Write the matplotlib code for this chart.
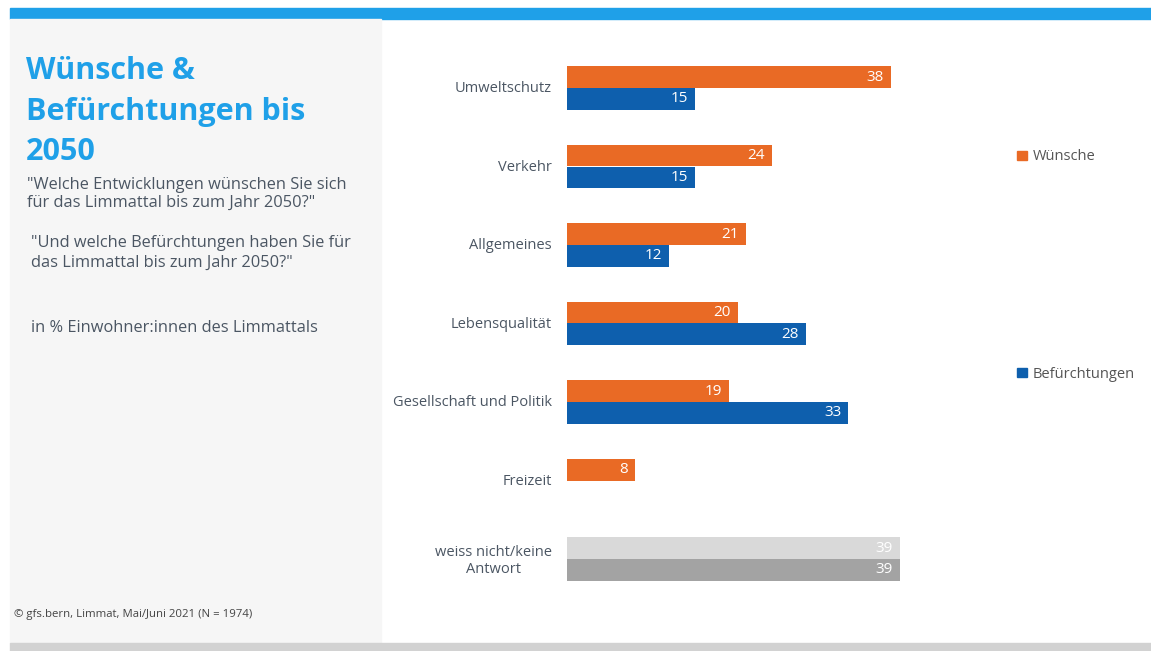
import matplotlib
matplotlib.use('Agg')
import matplotlib.pyplot as plt
from matplotlib.patches import Rectangle, Patch
import numpy as np

plt.rcParams['font.family'] = ['Open Sans', 'DejaVu Sans']

# ── Data ─────────────────────────────────────────────────────────────────────
categories = ["Umweltschutz", "Verkehr", "Allgemeines", "Lebensqualität",
              "Gesellschaft und Politik", "Freizeit", "weiss nicht/keine\nAntwort"]
wuensche       = [38, 24, 21, 20, 19, 8, 39]
befuerchtungen = [15, 15, 12, 28, 33, np.nan, 39]

ORANGE = '#e96a25'
BLUE = '#0e5fad'
GREY_LIGHT = '#d9d9d9'
GREY_DARK = '#a3a3a3'
TEXT = '#4b5663'
TITLE_BLUE = '#1fa0e8'

W, H = 1151, 651
fig = plt.figure(figsize=(W / 100, H / 100), dpi=100)


def fx(px):
    return px / W


def fy(py):
    return 1 - py / H


# page frame: top stripe, side panel, bottom stripe
fig.patches.append(Rectangle((fx(10), fy(19)), fx(1141), 11 / H, transform=fig.transFigure,
                             color=TITLE_BLUE, zorder=0))
fig.patches.append(Rectangle((fx(10), fy(643)), fx(371), 624 / H, transform=fig.transFigure,
                             color='#f6f6f6', zorder=0))
fig.patches.append(Rectangle((fx(10), fy(651)), fx(1141), 8 / H, transform=fig.transFigure,
                             color='#d2d2d2', zorder=0))

# ── Left panel texts ─────────────────────────────────────────────────────────
for line, ypx in (("Wünsche &", 71), ("Befürchtungen bis", 112), ("2050", 152)):
    fig.text(fx(26), fy(ypx), line, ha='left', va='center',
             fontsize=22, fontweight='bold', color=TITLE_BLUE)

question_lines = [
    (27, 185, '"Welche Entwicklungen wünschen Sie sich'),
    (27, 203, 'für das Limmattal bis zum Jahr 2050?"'),
    (31, 243, '"Und welche Befürchtungen haben Sie für'),
    (31, 263, 'das Limmattal bis zum Jahr 2050?"'),
    (31, 328, 'in % Einwohner:innen des Limmattals'),
]
for xpx, ypx, line in question_lines:
    fig.text(fx(xpx), fy(ypx), line, ha='left', va='center', fontsize=11.8, color=TEXT)

fig.text(fx(14), fy(615), '© gfs.bern, Limmat, Mai/Juni 2021 (N = 1974)',
         ha='left', va='center', fontsize=8.2, color='#444444')

# ── Bar chart ────────────────────────────────────────────────────────────────
px_per_unit = 324 / 38
ax_left, ax_right, ax_top, ax_bot = 567, 1000, 40, 610
ax = fig.add_axes([fx(ax_left), fy(ax_bot), (ax_right - ax_left) / W, (ax_bot - ax_top) / H])
ax.set_xlim(0, (ax_right - ax_left) / px_per_unit)
group_gap = 78.5
ax.set_ylim((ax_bot - 88) / group_gap, (ax_top - 88) / group_gap)

y = np.arange(len(categories))
h = 0.28
n_main = len(categories) - 1

ax.barh(y[:n_main] - h / 2, wuensche[:n_main], height=h, color=ORANGE)
ax.barh(y[:n_main] + h / 2, befuerchtungen[:n_main], height=h, color=BLUE)
ax.barh(y[n_main] - h / 2, wuensche[n_main], height=h, color=GREY_LIGHT)
ax.barh(y[n_main] + h / 2, befuerchtungen[n_main], height=h, color=GREY_DARK)

for i in range(len(categories)):
    for val, off in ((wuensche[i], -h / 2), (befuerchtungen[i], h / 2)):
        if np.isnan(val):
            continue
        ax.annotate(f"{val:g}", xy=(val, y[i] + off), xytext=(-5, 0),
                    textcoords='offset points', ha='right', va='center',
                    fontsize=11, color='white')

ax.set_yticks(y - 0.015)
ax.set_yticklabels(categories)
for lab in ax.get_yticklabels():
    lab.set_multialignment('center')
ax.tick_params(axis='y', length=0, pad=11, labelsize=10.5, labelcolor=TEXT)
ax.set_xticks([])
for s in ax.spines.values():
    s.set_visible(False)
ax.patch.set_alpha(0)

# legend entries sit beside their own groups
legend_kw = dict(loc='center left', frameon=False, fontsize=10.5,
                 handlelength=0.65, handleheight=0.65, handletextpad=0.4)
leg1 = fig.legend(handles=[Patch(color=ORANGE, label='Wünsche')],
                  bbox_to_anchor=(fx(1004), fy(157)), **legend_kw)
leg2 = fig.legend(handles=[Patch(color=BLUE, label='Befürchtungen')],
                  bbox_to_anchor=(fx(1004), fy(374)), **legend_kw)
for leg in (leg1, leg2):
    for t in leg.get_texts():
        t.set_color('#555555')

fig.savefig('out.png', dpi=100)
